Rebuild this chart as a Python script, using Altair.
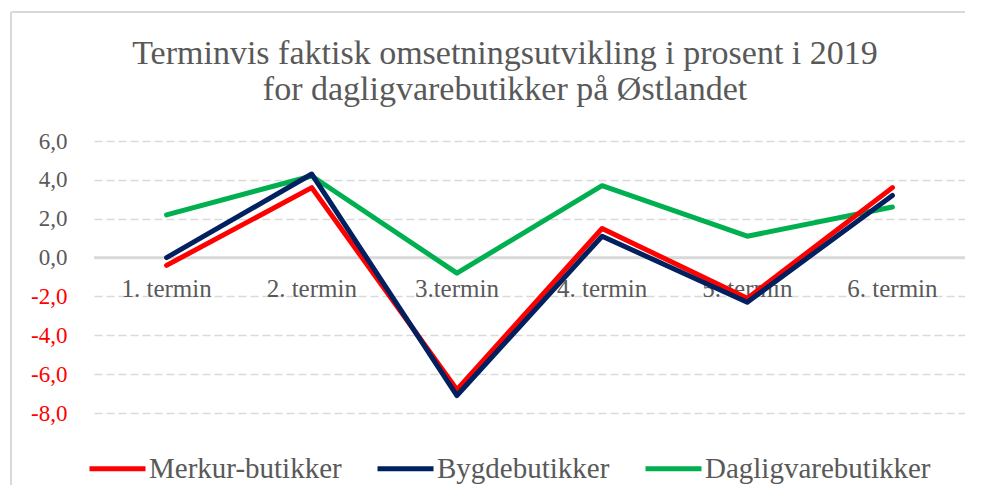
import altair as alt
import pandas as pd

terminer = ["1. termin", "2. termin", "3.termin", "4. termin", "5. termin", "6. termin"]
series_names = ["Merkur-butikker", "Bygdebutikker", "Dagligvarebutikker"]
merkur = [-0.4, 3.6, -6.8, 1.5, -2.1, 3.6]
bygde = [0.0, 4.3, -7.1, 1.1, -2.3, 3.2]
dagligvare = [2.2, 4.2, -0.8, 3.7, 1.1, 2.6]
colors = ["#FF0000", "#002060", "#00B050"]
y_ticks = [-8, -6, -4, -2, 0, 2, 4, 6]
title_lines = ["Terminvis faktisk omsetningsutvikling i prosent i 2019",
               "for dagligvarebutikker på Østlandet"]

FONT = "Liberation Serif"
GRAY = "#595959"

rows = []
for name, vals in zip(series_names, [merkur, bygde, dagligvare]):
    for t, v in zip(terminer, vals):
        rows.append({"serie": name, "termin": t, "verdi": v})
df = pd.DataFrame(rows)
cats = pd.DataFrame({"termin": terminer})
one = pd.DataFrame({"k": [0]})

x_enc = alt.X("termin:N", sort=terminer, axis=None)
color_enc = alt.Color(
    "serie:N",
    scale=alt.Scale(domain=series_names, range=colors),
    legend=alt.Legend(
        title=None, orient="none", direction="horizontal",
        legendX=-7, legendY=297,
        symbolType="stroke", symbolSize=3136, symbolStrokeWidth=5,
        labelFont=FONT, labelFontSize=29, labelColor=GRAY, labelOffset=1,
        columnPadding=25, labelLimit=400,
    ),
)
y_scale = alt.Scale(domain=[-8, 6], nice=False, zero=False)
y_axis = alt.Axis(
    values=y_ticks, title=None, domain=False, ticks=False,
    labelExpr="replace(replace(format(datum.value, '.1f'), '.', ','), '\u2212', '-')",
    labelFont=FONT, labelFontSize=23, labelPadding=27, labelOverlap=False,
    labelColor=alt.condition("datum.value < 0", alt.value("#FF0000"), alt.value(GRAY)),
    grid=True, gridColor="#D9D9D9", gridWidth=1.5,
    gridDash=alt.condition("datum.value === 0", alt.value([]), alt.value([8, 4])),
)
y_enc = alt.Y("verdi:Q", scale=y_scale, axis=y_axis)
y_zero = alt.YDatum(0, type="quantitative", scale=y_scale, axis=y_axis)

base = alt.Chart(df)

def series_layer(name):
    return base.transform_filter(alt.datum.serie == name).mark_line(
        strokeWidth=5, strokeCap="round", strokeJoin="round"
    ).encode(x=x_enc, y=y_enc, color=color_enc)

zero_rule = alt.Chart(cats).mark_rule(color="#D9D9D9", strokeWidth=1.5).encode(y=y_zero)

labels = alt.Chart(cats).mark_text(
    font=FONT, fontSize=25, color=GRAY, dy=31
).encode(x=x_enc, y=y_zero, text="termin:N")

border_top = alt.Chart(one).mark_rule(color="#D9D9D9", strokeWidth=2).encode(
    x=alt.value(-83), x2=alt.value(890), y=alt.value(-129), y2=alt.value(-129)
)
border_left = alt.Chart(one).mark_rule(color="#D9D9D9", strokeWidth=2).encode(
    x=alt.value(-83), x2=alt.value(-83), y=alt.value(-129), y2=alt.value(400)
)

title1 = alt.Chart(one).mark_text(
    font=FONT, fontSize=34, color=GRAY, align="center", baseline="alphabetic"
).encode(x=alt.value(411), y=alt.value(-77), text=alt.value(title_lines[0]))
title2 = alt.Chart(one).mark_text(
    font=FONT, fontSize=34, color=GRAY, align="center", baseline="alphabetic"
).encode(x=alt.value(411), y=alt.value(-41), text=alt.value(title_lines[1]))

chart = alt.layer(
    border_top, border_left, title1, title2, zero_rule, labels,
    series_layer("Dagligvarebutikker"),
    series_layer("Merkur-butikker"),
    series_layer("Bygdebutikker"),
).properties(
    width=871, height=272,
    autosize=alt.AutoSizeParams(type="none"),
    padding={"left": 86, "top": 133, "right": 0, "bottom": 72},
).configure_view(stroke=None).resolve_scale(color="shared")

chart.save("out.html", embed_options={"renderer": "svg", "actions": False})
